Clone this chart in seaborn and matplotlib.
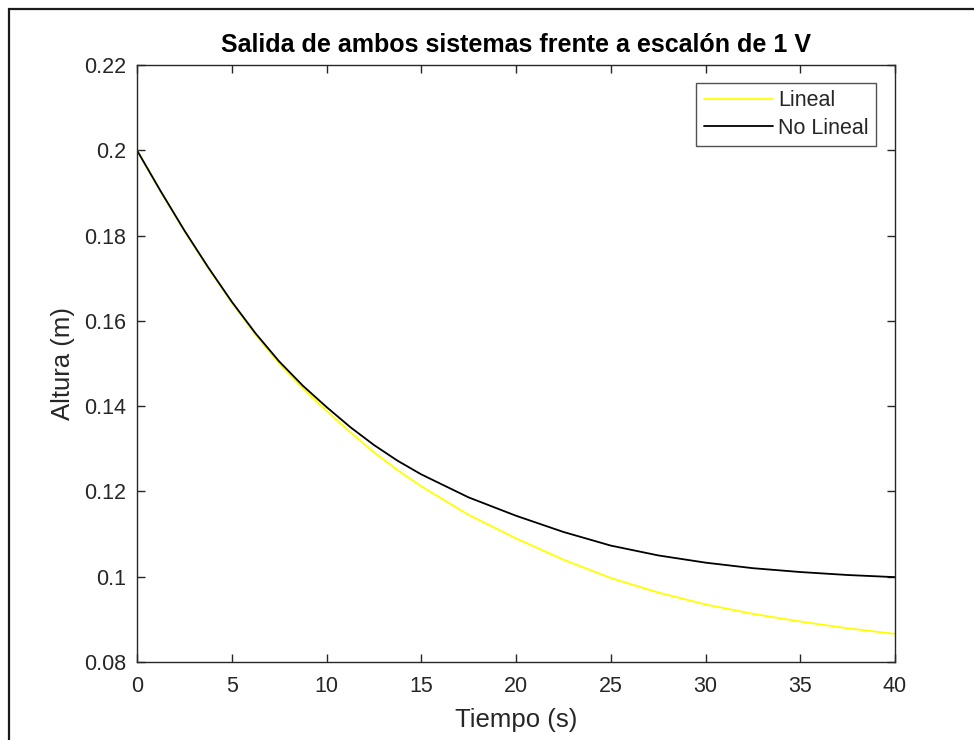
import matplotlib
matplotlib.use("Agg")
import matplotlib.pyplot as plt
import seaborn as sns
import pandas as pd
from matplotlib.patches import Rectangle
from matplotlib.lines import Line2D

# ---- data ----
tiempo = [0, 1.25, 2.5, 3.75, 5, 6.25, 7.5, 8.75, 10, 11.25, 12.5, 13.75, 15,
          17.5, 20, 22.5, 25, 27.5, 30, 32.5, 35, 37.5, 40]
lineal = [0.2, 0.1903, 0.1811, 0.1724, 0.1643, 0.1568, 0.1500, 0.1442, 0.1389, 0.1339,
          0.1292, 0.1250, 0.1212, 0.1145, 0.1090, 0.1040, 0.0997, 0.0963, 0.0935,
          0.0913, 0.0895, 0.0879, 0.0866]
no_lineal = [0.2, 0.1904, 0.1812, 0.1726, 0.1645, 0.1571, 0.1505, 0.1448, 0.1398, 0.1351,
             0.1309, 0.1272, 0.1240, 0.1186, 0.1143, 0.1105, 0.1073, 0.1050, 0.1033,
             0.1020, 0.1011, 0.1004, 0.0999]
series_names = ["Lineal", "No Lineal"]
series_colors = ["#FFFF00", "#000000"]
x_ticks = [0, 5, 10, 15, 20, 25, 30, 35, 40]
y_ticks = [0.08, 0.10, 0.12, 0.14, 0.16, 0.18, 0.20, 0.22]
y_tick_labels = ["0.08", "0.1", "0.12", "0.14", "0.16", "0.18", "0.2", "0.22"]
title = "Salida de ambos sistemas frente a escalón de 1 V"
x_label = "Tiempo (s)"
y_label = "Altura (m)"

df = pd.DataFrame({
    "t": tiempo * 2,
    "h": lineal + no_lineal,
    "serie": [series_names[0]] * len(tiempo) + [series_names[1]] * len(tiempo),
})

sns.set_theme(style="white")
plt.rcParams["font.family"] = ["Liberation Sans", "DejaVu Sans"]

W, H = 974, 740
fig = plt.figure(figsize=(W / 100, H / 100), dpi=100)
fig.patch.set_facecolor("white")
ax = fig.add_axes([137 / W, 1 - 662 / H, (895 - 137) / W, (662 - 65) / H])

sns.lineplot(data=df, x="t", y="h", hue="serie", palette=series_colors,
             hue_order=series_names, linewidth=1.3, ax=ax, legend=False)

ax.set_xlim(0, 40)
ax.set_ylim(0.08, 0.22)
ax.set_xticks(x_ticks)
ax.set_xticklabels([str(v) for v in x_ticks])
ax.set_yticks(y_ticks)
ax.set_yticklabels(y_tick_labels)

axcol = "#262626"
for s in ax.spines.values():
    s.set_visible(True)
    s.set_color(axcol)
    s.set_linewidth(1.0)
ax.tick_params(axis="both", which="both", direction="in", length=6, width=1.0,
               colors=axcol, labelcolor=axcol, labelsize=15.5,
               top=True, right=True, bottom=True, left=True)
ax.tick_params(axis="x", pad=10)
ax.tick_params(axis="y", pad=8)

ax.set_xlabel(x_label, fontsize=18.5, color=axcol, labelpad=8)
ax.set_ylabel(y_label, fontsize=18.5, color=axcol, labelpad=6)
ax.set_title(title, fontsize=18, fontweight="bold", color="black", pad=9)

handles = [Line2D([], [], color=c, lw=1.3) for c in series_colors]
leg = ax.legend(handles, series_names, loc="upper right", bbox_to_anchor=(0.975, 0.970),
                borderaxespad=0, fontsize=15.5, frameon=True, fancybox=False,
                handlelength=3.2, handletextpad=0.25, labelspacing=0.3, borderpad=0.35)
leg.get_frame().set_edgecolor(axcol)
leg.get_frame().set_linewidth(1.0)
for t in leg.get_texts():
    t.set_color(axcol)

# outer frame of the screenshot
fig.patches.append(Rectangle((9 / W, -0.1), 1.2, 1 - 9 / H + 0.1, transform=fig.transFigure,
                             fill=False, edgecolor="#1a1a1a", linewidth=1.6))

fig.savefig("out.png", dpi=100, facecolor="white")
